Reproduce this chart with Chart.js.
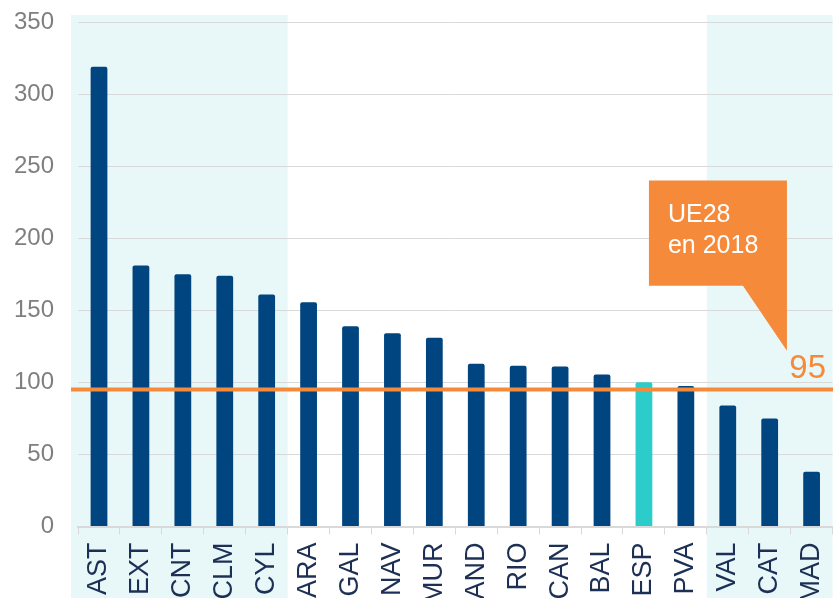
<!DOCTYPE html>
<html>
<head>
<meta charset="utf-8">
<script src="https://cdn.jsdelivr.net/npm/chart.js@4"></script>
<style>
  html, body { margin: 0; padding: 0; background: #fff; overflow: hidden; }
  #wrap { width: 833px; height: 598px; overflow: hidden; }
</style>
</head>
<body>
<div id="wrap"><canvas id="chart" width="852" height="612"></canvas></div>
<script>
const regions = ["AST", "EXT", "CNT", "CLM", "CYL", "ARA", "GAL", "NAV", "MUR", "AND", "RIO", "CAN", "BAL", "ESP", "PVA", "VAL", "CAT", "MAD"];
const values = [319, 181, 175, 174, 161, 155.5, 139, 134, 131, 113, 111.5, 111, 105.5, 100, 97.5, 84, 75, 38];
const highlighted = "ESP";
const shadedGroups = [["AST", "CYL"], ["VAL", "MAD"]];
const euAverage = 95;
const calloutLines = ["UE28", "en 2018"];
const yMax = 350;
const yStep = 50;

const navy = "#00457f";
const teal = "#2ccccb";
const orange = "#f58a3a";
const font = "Arial, 'Liberation Sans', sans-serif";

const bandsPlugin = {
  id: "bands",
  beforeDraw(chart) {
    const { ctx, scales: { x, y } } = chart;
    const half = (x.right - x.left) / regions.length / 2;
    ctx.save();
    ctx.fillStyle = "#e8f8f8";
    shadedGroups.forEach(([from, to]) => {
      const i0 = regions.indexOf(from);
      const i1 = regions.indexOf(to);
      let left = x.getPixelForValue(i0) - half;
      if (i0 === 0) left -= 7;
      const right = x.getPixelForValue(i1) + half;
      const top = y.getPixelForValue(yMax) - 7;
      ctx.fillRect(left, top, right - left, chart.height - top);
    });
    ctx.restore();
  }
};

const euLinePlugin = {
  id: "euLine",
  afterDatasetsDraw(chart) {
    const { ctx, scales: { x, y }, chartArea } = chart;
    const ly = y.getPixelForValue(euAverage);
    ctx.save();
    // reference line
    ctx.strokeStyle = orange;
    ctx.lineWidth = 4;
    ctx.beginPath();
    ctx.moveTo(chartArea.left - 7, ly);
    ctx.lineTo(chart.width, ly);
    ctx.stroke();

    // callout box
    const left = x.getPixelForValue(regions.indexOf(highlighted)) + 5;
    const right = left + 138;
    const top = y.getPixelForValue(240);
    const bottom = y.getPixelForValue(167);
    const tipY = y.getPixelForValue(122);
    ctx.fillStyle = orange;
    ctx.beginPath();
    ctx.moveTo(left, top);
    ctx.lineTo(right, top);
    ctx.lineTo(right, tipY);
    ctx.lineTo(right - 44, bottom);
    ctx.lineTo(left, bottom);
    ctx.closePath();
    ctx.fill();

    ctx.fillStyle = "#fff";
    ctx.font = "25px " + font;
    ctx.textAlign = "left";
    ctx.textBaseline = "alphabetic";
    calloutLines.forEach((t, i) => ctx.fillText(t, left + 19, top + 41 + i * 31));

    // value label
    ctx.fillStyle = orange;
    ctx.font = "33px " + font;
    ctx.textAlign = "right";
    ctx.fillText(String(euAverage), 826, ly - 12);
    ctx.restore();
  }
};

new Chart(document.getElementById("chart"), {
  type: "bar",
  data: {
    labels: regions,
    datasets: [{
      data: values,
      backgroundColor: regions.map(r => r === highlighted ? teal : navy),
      borderRadius: 2,
      borderSkipped: "bottom",
      barPercentage: 0.4,
      categoryPercentage: 1
    }]
  },
  options: {
    responsive: false,
    animation: false,
    layout: { padding: { left: 13, top: 22, right: 0, bottom: 0 } },
    plugins: { legend: { display: false }, tooltip: { enabled: false } },
    scales: {
      x: {
        grid: { offset: true, drawOnChartArea: false, tickLength: 8, color: "#d9d9d9" },
        border: { color: "#d9d9d9", width: 2 },
        ticks: {
          color: "#1c2f55",
          font: { family: font, size: 27 },
          minRotation: 90,
          maxRotation: 90,
          padding: 8,
          autoSkip: false
        }
      },
      y: {
        min: 0,
        max: yMax,
        ticks: { stepSize: yStep, color: "#7f7f7f", font: { family: font, size: 24 }, padding: 1 },
        grid: { color: "#d9d9d9", drawTicks: true, tickLength: 23, tickColor: "rgba(0,0,0,0)" },
        border: { display: false }
      }
    }
  },
  plugins: [bandsPlugin, euLinePlugin]
});
</script>
</body>
</html>
